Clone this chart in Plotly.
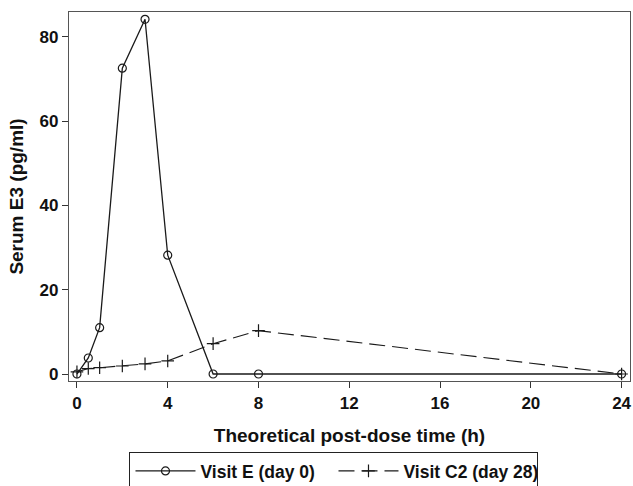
import plotly.graph_objects as go

time_h = [0, 0.5, 1, 2, 3, 4, 6, 8, 24]
visit_e = [0.0, 3.8, 11.0, 72.6, 84.2, 28.2, 0.0, 0.0, 0.0]
visit_c2 = [0.5, 1.3, 1.5, 1.9, 2.4, 3.1, 7.2, 10.3, 0.0]
x_ticks = [0, 4, 8, 12, 16, 20, 24]
y_ticks = [0, 20, 40, 60, 80]

fig = go.Figure()
fig.add_trace(go.Scatter(
    x=time_h, y=visit_e, mode="lines+markers", name="Visit E (day 0)",
    line=dict(color="#1a1a1a", width=1.3),
    marker=dict(symbol="circle-open", size=8, color="#1a1a1a", line=dict(width=1.2)),
))
fig.add_trace(go.Scatter(
    x=time_h, y=visit_c2, mode="lines+markers", name="Visit C2 (day 28)",
    line=dict(color="#1a1a1a", width=1.1, dash="16px,7px"),
    marker=dict(symbol="cross-thin-open", size=9, color="#1a1a1a", line=dict(width=1.2)),
))

font_fam = "Liberation Sans, Arial, sans-serif"
fig.update_layout(
    width=633, height=486,
    margin=dict(l=69, r=3, t=12, b=105, autoexpand=False),
    plot_bgcolor="white", paper_bgcolor="white",
    font=dict(family=font_fam, color="#111111"),
    showlegend=True,
    hovermode=False,
    legend=dict(
        orientation="h", x=0.472, xanchor="center", y=-0.192, yanchor="top",
        bordercolor="#222222", borderwidth=1.2,
        font=dict(size=17.5, family=font_fam, weight="bold"),
        itemwidth=60, entrywidth=128,
    ),
    xaxis=dict(
        range=[-0.35, 24.37], tickvals=x_ticks, ticks="outside", ticklen=6,
        tickcolor="#333", showline=True, linecolor="#555", linewidth=1.2, mirror=True,
        showgrid=False, zeroline=False, automargin=False,
        tickfont=dict(size=17, family=font_fam, weight="bold"),
        title=dict(text="Theoretical post-dose time (h)", standoff=17,
                   font=dict(size=19, family=font_fam, weight="bold")),
    ),
    yaxis=dict(
        range=[-1.66, 85.93], tickvals=y_ticks, ticks="outside", ticklen=6,
        tickcolor="#333", showline=True, linecolor="#555", linewidth=1.2, mirror=True,
        showgrid=False, zeroline=False, automargin=False,
        tickfont=dict(size=17, family=font_fam, weight="bold"),
        title=dict(text="Serum E3 (pg/ml)", standoff=10,
                   font=dict(size=19, family=font_fam, weight="bold")),
    ),
)
fig.write_html(
    "out.html",
    config={"displayModeBar": False},
    post_script="document.body.style.margin='0';document.body.style.overflow='hidden';",
)
